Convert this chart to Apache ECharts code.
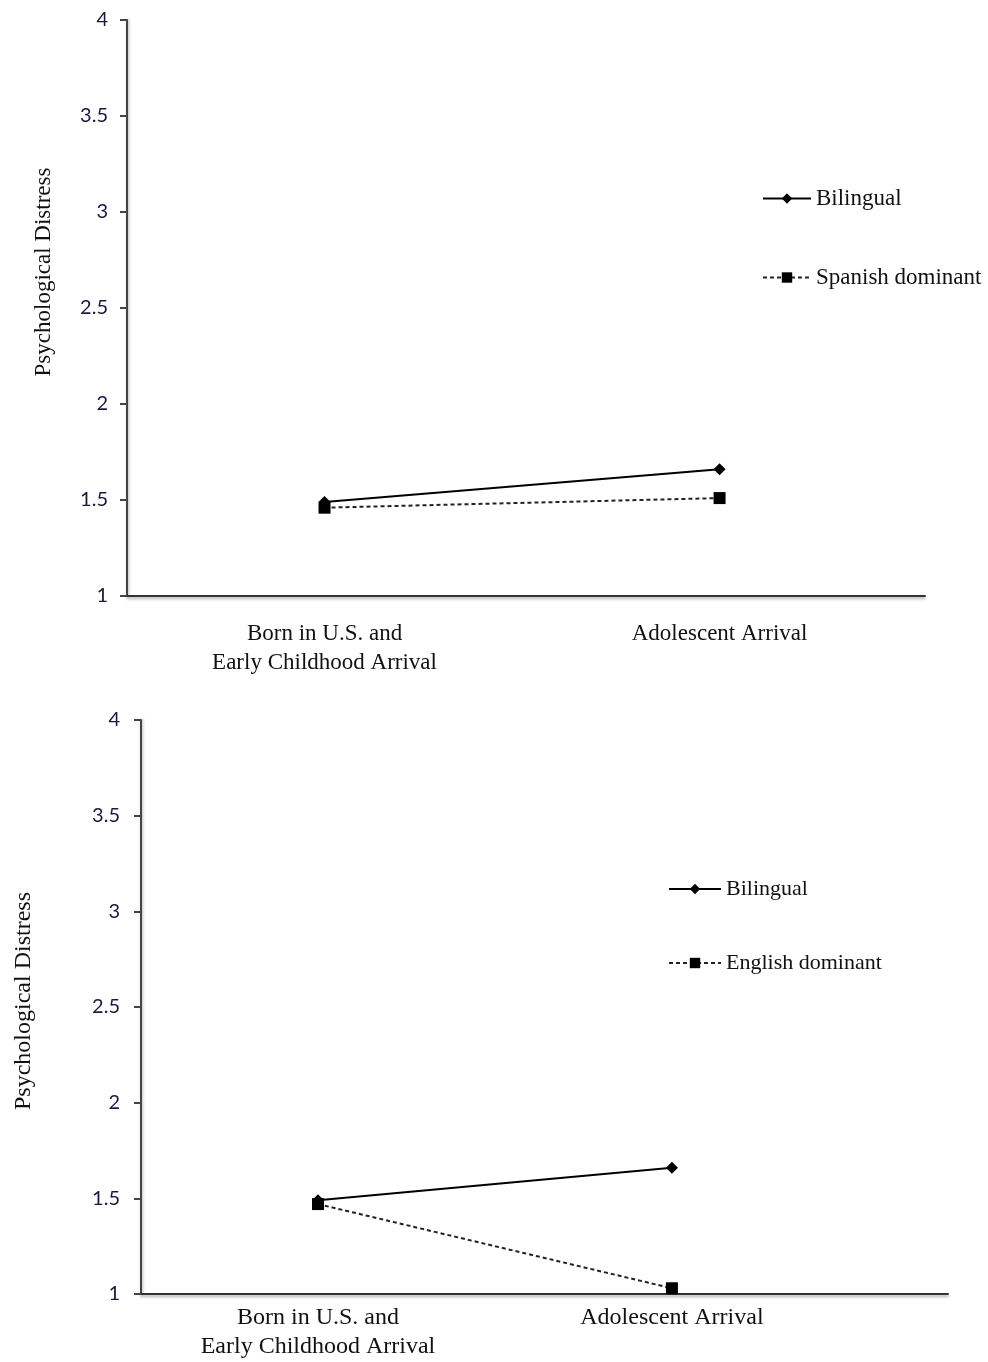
<!DOCTYPE html>
<html>
<head>
    <meta charset="UTF-8">
    <title>Psychological Distress</title>
    <script src="https://cdn.jsdelivr.net/npm/echarts@6/dist/echarts.min.js"></script>
    <style>
        body { margin: 0; background: #fff; }
        .chart { width: 988px; height: 681px; }
    </style>
</head>
<body>
<div id="top-chart" class="chart"></div>
<div id="bottom-chart" class="chart"></div>
<script>
    // data
    var categories = ['Born in U.S. and\nEarly Childhood Arrival', 'Adolescent Arrival'];
    var yTicks = [1, 1.5, 2, 2.5, 3, 3.5, 4];

    var topBilingual = [1.49, 1.66];
    var topSpanish = [1.46, 1.51];

    var bottomBilingual = [1.49, 1.66];
    var bottomEnglish = [1.47, 1.03];

    var serif = '"Liberation Serif", "DejaVu Serif", serif';
    var sans = 'Lato, "Open Sans", sans-serif';

    function pts(values) {
        return values.map(function (v, i) { return [i, v]; });
    }

    function buildOption(cfg) {
        return {
            animation: false,
            grid: Object.assign({ outerBoundsMode: 'none', containLabel: false }, cfg.grid),
            legend: {
                orient: 'vertical',
                left: cfg.legend.left,
                top: cfg.legend.top,
                itemGap: cfg.legend.gap,
                itemWidth: cfg.legend.width,
                itemHeight: 13,
                itemTextGap: 5,
                data: cfg.legend.names,
                textStyle: { fontFamily: serif, fontSize: cfg.legend.fontSize, color: '#111' }
            },
            xAxis: {
                type: 'value',
                min: -0.5,
                max: cfg.xMax,
                axisLine: {
                    onZero: false,
                    lineStyle: {
                        color: '#333', width: 2,
                        shadowColor: 'rgba(0,0,0,0.35)', shadowBlur: 3, shadowOffsetY: 2
                    }
                },
                axisTick: { show: false },
                splitLine: { show: false },
                axisLabel: {
                    customValues: [0, 1],
                    formatter: function (v) { return categories[Math.round(v)]; },
                    fontFamily: serif,
                    fontSize: cfg.xFont,
                    lineHeight: 29,
                    color: '#111',
                    margin: cfg.xMargin,
                    verticalAlign: 'top'
                }
            },
            yAxis: {
                type: 'value',
                min: yTicks[0],
                max: yTicks[yTicks.length - 1],
                interval: 0.5,
                name: 'Psychological Distress',
                nameLocation: 'middle',
                nameGap: cfg.nameGap,
                nameRotate: 90,
                nameTextStyle: {
                    fontFamily: serif, fontSize: cfg.nameFont, color: '#111',
                    padding: [0, 0, 0, cfg.nameShift]
                },
                axisLine: {
                    show: true,
                    onZero: false,
                    lineStyle: {
                        color: '#444', width: 2,
                        shadowColor: 'rgba(0,0,0,0.3)', shadowBlur: 3, shadowOffsetX: 1
                    }
                },
                axisTick: { show: true, inside: false, length: 7, lineStyle: { color: '#444', width: 2 } },
                splitLine: { show: false },
                axisLabel: {
                    fontFamily: sans,
                    fontSize: 20,
                    color: '#1a1a3a',
                    margin: cfg.labelMargin
                }
            },
            series: [
                {
                    name: 'Bilingual',
                    type: 'line',
                    data: pts(cfg.first),
                    symbol: 'diamond',
                    symbolSize: 12,
                    itemStyle: { color: '#000' },
                    lineStyle: { color: '#000', width: 2 }
                },
                {
                    name: cfg.legend.names[1],
                    type: 'line',
                    data: pts(cfg.second),
                    symbol: 'rect',
                    symbolSize: 12,
                    itemStyle: { color: '#000' },
                    lineStyle: { color: '#222', width: 2, type: [4, 3] }
                }
            ]
        };
    }

    var topChart = echarts.init(document.getElementById('top-chart'));
    topChart.setOption(buildOption({
        grid: { left: 127, top: 20, right: 63, height: 576 },
        xMax: 1.52,
        xFont: 23,
        xMargin: 23,
        nameGap: 72,
        nameFont: 23,
        nameShift: 72,
        labelMargin: 19,
        legend: { left: 757, top: 182, gap: 56, width: 48, fontSize: 23, names: ['Bilingual', 'Spanish dominant'] },
        first: topBilingual,
        second: topSpanish
    }));

    var bottomChart = echarts.init(document.getElementById('bottom-chart'));
    bottomChart.setOption(buildOption({
        grid: { left: 141, top: 39, right: 40, height: 574 },
        xMax: 1.78,
        xFont: 24,
        xMargin: 9,
        nameGap: 105,
        nameFont: 24,
        nameShift: 12,
        labelMargin: 21,
        legend: { left: 663, top: 192, gap: 52, width: 52, fontSize: 22, names: ['Bilingual', 'English dominant'] },
        first: bottomBilingual,
        second: bottomEnglish
    }));
</script>
</body>
</html>
